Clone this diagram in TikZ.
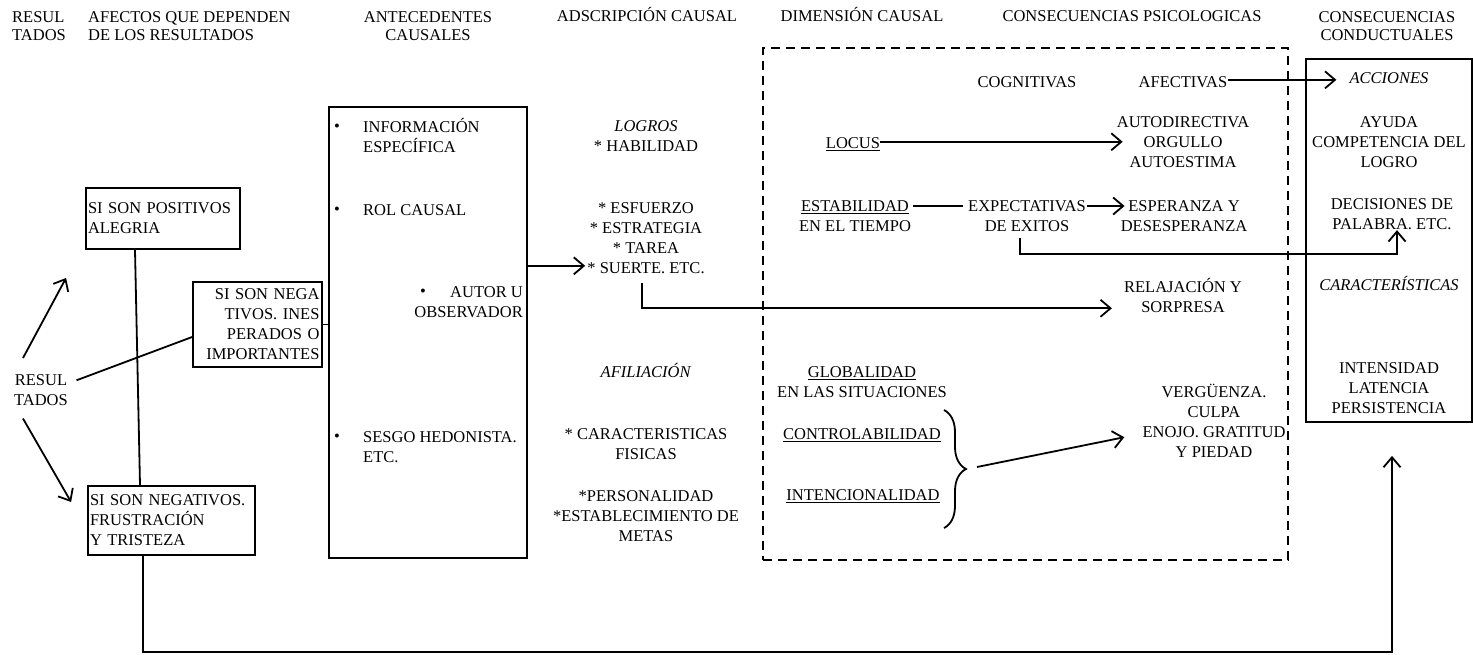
\documentclass[tikz,border=0pt]{standalone}
\usepackage{fontspec}
\setmainfont{Liberation Serif}
\usetikzlibrary{arrows.meta,calc,decorations.pathreplacing}
\newcommand{\capstrut}{\rule{0pt}{16pt}}
\begin{document}
\begin{tikzpicture}[x=1pt,y=-1pt,
  every node/.style={font=\fontsize{16.5}{20}\selectfont, inner sep=0pt},
  txt/.style={anchor=north, yshift=10.5pt, align=center},
  txtl/.style={txt, anchor=north west, align=left},
  txtr/.style={txt, anchor=north east, align=right},
  hdr/.style={txt, font=\fontsize{16.5}{17.5}\selectfont},
  box/.style={draw, line width=1.8pt, inner sep=0pt},
  lbox/.style={box, inner xsep=2pt},
  dbox/.style={draw, line width=2.2pt, dash pattern=on 9pt off 6pt, inner sep=0pt},
  ln/.style={line width=1.8pt},
  arr/.style={ln, -{Straight Barb[length=10pt,width=17pt,line width=1.8pt]}},
]
\useasboundingbox (0,0) rectangle (1473,654);

% headers
\node[hdr, anchor=north west, align=left] (h1) at (12,17) {\capstrut RESUL\\TADOS};
\node[hdr, anchor=north west, align=left] (h2) at (88,17) {\capstrut AFECTOS QUE DEPENDEN\\DE LOS RESULTADOS};
\node[hdr] (h3) at (428,17) {\capstrut ANTECEDENTES\\CAUSALES};
\node[hdr] (h4) at (647,16) {\capstrut ADSCRIPCIÓN CAUSAL};
\node[hdr] (h5) at (862,16) {\capstrut DIMENSIÓN CAUSAL};
\node[hdr] (h6) at (1132,16) {\capstrut CONSECUENCIAS PSICOLOGICAS};
\node[hdr] (h7) at (1387,17) {\capstrut CONSECUENCIAS\\CONDUCTUALES};

% big boxes
\node[box, minimum width=198pt, minimum height=451pt] (antec) at (428,332.5) {};
\node[box, minimum width=166pt, minimum height=363pt] (conduct) at (1389,240.5) {};
\node[dbox, minimum width=525pt, minimum height=512pt] (psico) at (1025.5,304) {};

% left boxes
\node[lbox, minimum width=154pt, minimum height=61pt, text width=150pt, align=left] (pos) at (163,218.5) {SI SON POSITIVOS\\ALEGRIA};
\node[lbox, minimum width=129pt, minimum height=85pt, text width=124pt, align=right] (neg) at (257.5,324.5) {SI SON NEGA\\TIVOS. INES\\PERADOS O\\IMPORTANTES};
\node[lbox, minimum width=167pt, minimum height=69pt, text width=163pt, align=left] (frust) at (171.5,520.5) {SI SON NEGATIVOS.\\FRUSTRACIÓN\\Y TRISTEZA};
\node[txt] (resul) at (41,380) {\capstrut RESUL\\TADOS};

% antecedentes
\node[txt] (b1) at (337,126) {\capstrut\textbullet};
\node[txt] (b2) at (337,209) {\capstrut\textbullet};
\node[txt] (b3) at (423,291) {\capstrut\textbullet};
\node[txt] (b4) at (337,436) {\capstrut\textbullet};
\node[txtl] (ant1) at (363,127) {\capstrut INFORMACIÓN\\ESPECÍFICA};
\node[txtl] (ant2) at (363,210) {\capstrut ROL CAUSAL};
\node[txtr] (ant3) at (523,292) {\capstrut AUTOR U\\OBSERVADOR};
\node[txtl] (ant4) at (363,437) {\capstrut SESGO HEDONISTA.\\ETC.};

% adscripcion
\node[txt] (logros) at (646,126) {\capstrut\textit{LOGROS}\\* HABILIDAD};
\node[txt] (esf) at (646,208) {\capstrut * ESFUERZO\\* ESTRATEGIA\\* TAREA};
\node[txt] (suerte) at (646,268) {\capstrut * SUERTE. ETC.};
\node[txt] (afil) at (646,372) {\capstrut\textit{AFILIACIÓN}};
\node[txt] (fis) at (646,434) {\capstrut * CARACTERISTICAS\\FISICAS};
\node[txt] (pers) at (646,496) {\capstrut *PERSONALIDAD\\*ESTABLECIMIENTO DE\\METAS};

% dimension
\node[txt] (locus) at (853,143) {\capstrut\underline{LOCUS}};
\node[txt] (estab) at (855,206) {\capstrut\underline{ESTABILIDAD}\\EN EL TIEMPO};
\node[txt] (glob) at (862,372) {\capstrut\underline{GLOBALIDAD}\\EN LAS SITUACIONES};
\node[txt] (contr) at (862,434) {\capstrut\underline{CONTROLABILIDAD}};
\node[txt] (inten) at (863,495) {\capstrut\underline{INTENCIONALIDAD}};

% consecuencias psicologicas
\node[txt] (cogn) at (1027,82) {\capstrut COGNITIVAS};
\node[txt] (afect) at (1183,82) {\capstrut AFECTIVAS};
\node[txt] (autod) at (1183,122) {\capstrut AUTODIRECTIVA\\ORGULLO\\AUTOESTIMA};
\node[txt] (expect) at (1027,206) {\capstrut EXPECTATIVAS\\DE EXITOS};
\node[txt] (esper) at (1184,206) {\capstrut ESPERANZA Y\\DESESPERANZA};
\node[txt] (relaj) at (1183,287) {\capstrut RELAJACIÓN Y\\SORPRESA};
\node[txt] (verg) at (1214,392) {\capstrut VERGÜENZA.\\CULPA\\ENOJO. GRATITUD\\Y PIEDAD};

% consecuencias conductuales
\node[txt] (acc) at (1389,78) {\capstrut\textit{ACCIONES}};
\node[txt] (ayuda) at (1389,122) {\capstrut AYUDA\\COMPETENCIA DEL\\LOGRO};
\node[txt] (decis) at (1392,204) {\capstrut DECISIONES DE\\PALABRA. ETC.};
\node[txt] (carac) at (1389,285) {\capstrut\textit{CARACTERÍSTICAS}};
\node[txt] (inten2) at (1389,368) {\capstrut INTENSIDAD\\LATENCIA\\PERSISTENCIA};

% brace
\draw[ln, decorate, decoration={brace, amplitude=22pt}] (944,410) -- (944,528);
\coordinate (bracetip) at (968,467);

% connectors (left)
\draw[arr] ($(resul.north)+(-18,-11.5)$) -- ($(pos.south west)+(-19,28)$);
\draw[arr] ($(resul.south)+(-18,12.5)$) -- ($(frust.west)+(-16,-18.5)$);
\draw[ln] ($(resul.east)+(8.5,-7.5)$) -- ($(neg.west)+(0,12.5)$);
\draw[ln] (neg.east) -- (neg.east -| antec.west);
\draw[ln] ([xshift=-28pt]pos.south) -- ([xshift=-31.5pt]frust.north);
\draw[arr] ([xshift=-28.5pt]frust.south) |- ($(conduct.south)+(3,229)$) -- ($(conduct.south)+(3,33)$);

% connectors (middle)
\draw[arr, shorten >=2pt] (antec.east |- suerte.west) -- (suerte.west);
\draw[arr] ([xshift=-4pt,yshift=-9pt]suerte.south) |- ($(relaj.west)+(-12,13.5)$);
\draw[arr, shorten >=-6pt] (locus.east) -- (locus.east -| autod.west);
\draw[ln] ($(estab.north east)+(2,10.5)$) -- ($(expect.north west)+(-5,10.5)$);
\draw[arr] ($(expect.north east)+(1,10.5)$) -- ($(esper.north west)+(4,10.5)$);
\draw[arr] ([xshift=-7pt,yshift=-6pt]expect.south) |- ($(decis.south)+(5,24)$) -- ([xshift=5pt]decis.south);
\draw[arr] (afect.east) -- ($(afect.east -| acc.west)+(-13,0)$);
\draw[arr] ($(bracetip)+(9,0)$) -- ($(verg.west)+(-18,17.5)$);
\end{tikzpicture}
\end{document}
